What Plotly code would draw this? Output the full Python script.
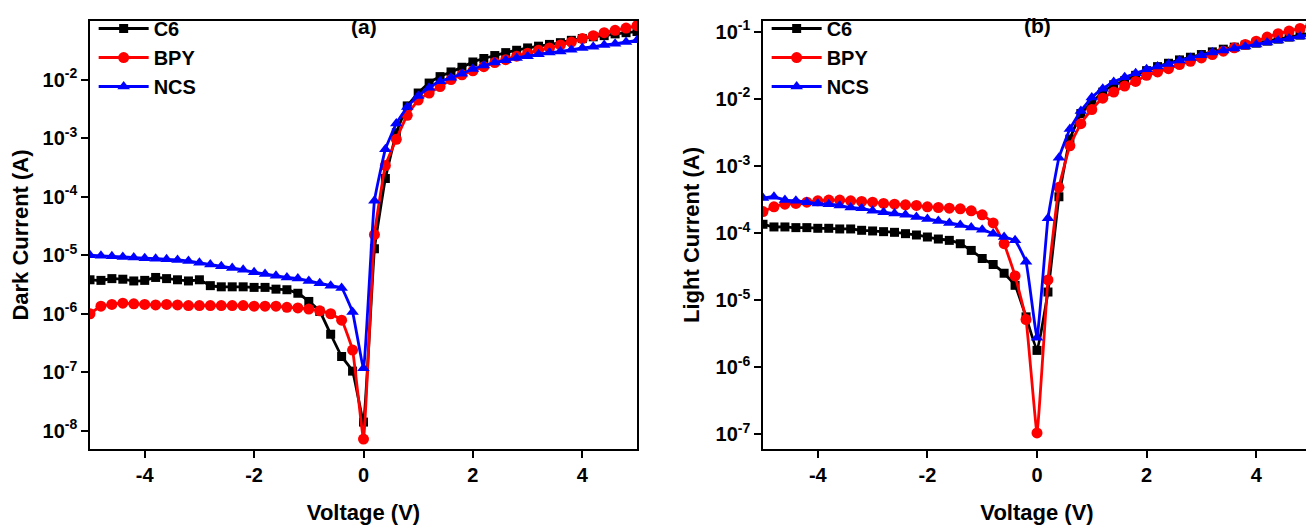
import plotly.graph_objects as go

voltage = [round(-5 + 0.2 * i, 1) for i in range(51)]

# log10 of current (A)
dark_c6 = [-5.42, -5.43, -5.40, -5.41, -5.44, -5.43, -5.38, -5.40, -5.42, -5.44,
           -5.42, -5.52, -5.54, -5.54, -5.54, -5.55, -5.55, -5.58, -5.59, -5.65,
           -5.79, -5.96, -6.35, -6.73, -6.98, -7.85, -4.89, -3.69, -2.91, -2.45,
           -2.23, -2.06, -1.95, -1.87, -1.79, -1.70, -1.64, -1.59, -1.54, -1.50,
           -1.46, -1.43, -1.40, -1.37, -1.33, -1.30, -1.27, -1.25, -1.22, -1.20, -1.18]
dark_bpy = [-6.00, -5.87, -5.84, -5.82, -5.83, -5.84, -5.85, -5.84, -5.85, -5.86,
            -5.86, -5.86, -5.86, -5.86, -5.86, -5.87, -5.87, -5.87, -5.89, -5.90,
            -5.92, -5.95, -6.00, -6.11, -6.62, -8.14, -4.65, -3.47, -3.02, -2.61,
            -2.35, -2.23, -2.12, -2.00, -1.92, -1.85, -1.78, -1.71, -1.66, -1.60,
            -1.55, -1.50, -1.46, -1.41, -1.36, -1.30, -1.25, -1.20, -1.16, -1.12, -1.08]
dark_ncs = [-5.00, -5.01, -5.02, -5.03, -5.04, -5.05, -5.06, -5.07, -5.08, -5.10,
            -5.13, -5.16, -5.19, -5.22, -5.25, -5.29, -5.32, -5.35, -5.38, -5.40,
            -5.44, -5.48, -5.52, -5.56, -5.97, -6.93, -4.07, -3.19, -2.75, -2.47,
            -2.28, -2.14, -2.03, -1.97, -1.90, -1.82, -1.76, -1.71, -1.67, -1.63,
            -1.60, -1.57, -1.54, -1.52, -1.49, -1.46, -1.44, -1.41, -1.39, -1.36, -1.33]

light_c6 = [-3.87, -3.91, -3.91, -3.92, -3.92, -3.93, -3.93, -3.94, -3.94, -3.96,
            -3.97, -3.98, -3.99, -4.01, -4.03, -4.06, -4.09, -4.11, -4.16, -4.26,
            -4.38, -4.47, -4.60, -4.78, -5.25, -5.75, -4.88, -3.46, -2.60, -2.22,
            -2.06, -1.90, -1.79, -1.73, -1.65, -1.58, -1.52, -1.47, -1.42, -1.38,
            -1.34, -1.30, -1.26, -1.23, -1.20, -1.17, -1.14, -1.11, -1.08, -1.05, -1.02]
light_bpy = [-3.68, -3.61, -3.57, -3.56, -3.54, -3.52, -3.51, -3.51, -3.52, -3.53,
             -3.54, -3.56, -3.57, -3.58, -3.59, -3.61, -3.62, -3.63, -3.64, -3.67,
             -3.73, -3.85, -4.16, -4.64, -5.29, -6.98, -4.70, -3.32, -2.70, -2.37,
             -2.16, -1.99, -1.90, -1.81, -1.74, -1.65, -1.60, -1.55, -1.49, -1.44,
             -1.39, -1.34, -1.29, -1.24, -1.19, -1.14, -1.08, -1.03, -0.99, -0.95, -0.90]
light_ncs = [-3.48, -3.46, -3.51, -3.52, -3.54, -3.56, -3.57, -3.59, -3.62, -3.63,
             -3.67, -3.69, -3.71, -3.73, -3.76, -3.79, -3.82, -3.85, -3.88, -3.92,
             -3.95, -4.01, -4.06, -4.11, -4.43, -5.56, -3.78, -2.88, -2.45, -2.18,
             -1.98, -1.85, -1.75, -1.68, -1.62, -1.56, -1.52, -1.48, -1.43, -1.39,
             -1.35, -1.31, -1.28, -1.25, -1.22, -1.19, -1.16, -1.13, -1.10, -1.07, -1.04]

series_names = ["C6", "BPY", "NCS"]
colors = ["#000000", "#FF0000", "#0000FF"]
symbols = ["square", "circle", "triangle-up"]
msizes = [9, 11, 11]

x_ticks = [-4, -2, 0, 2, 4]
x_tick_text = ["-4", "-2", "0", "2", "4"]
dark_exps = [-8, -7, -6, -5, -4, -3, -2]
light_exps = [-7, -6, -5, -4, -3, -2, -1]

FONT = "Liberation Sans"
# page has an 8px body margin, so the figure is 8px smaller than the window
W, H = 1306, 523
ml, mr, mt, mb = 82, 3, 1, 82
pw = W - ml - mr
dom_a = [0, (629 - ml) / pw]
dom_b = [(755 - ml) / pw, 1.0]

fig = go.Figure()
panels = [
    ("x", "y", [dark_c6, dark_bpy, dark_ncs], "legend"),
    ("x2", "y2", [light_c6, light_bpy, light_ncs], "legend2"),
]
for xa, ya, data, leg in panels:
    for name, col, sym, ms, vals in zip(series_names, colors, symbols, msizes, data):
        fig.add_trace(go.Scatter(
            x=voltage, y=[10 ** v for v in vals], name=name,
            mode="lines+markers", xaxis=xa, yaxis=ya, legend=leg,
            line=dict(color=col, width=2.8, shape="spline", smoothing=0.3),
            marker=dict(color=col, symbol=sym, size=ms, line=dict(width=0)),
        ))

axis_common = dict(showline=True, linecolor="black", linewidth=1.5, mirror=True,
                   ticks="outside", ticklen=7, tickwidth=1.5, tickcolor="black",
                   showgrid=False, zeroline=False, automargin=False,
                   tickfont=dict(family=FONT, size=20, color="black", weight="bold"),
                   title_font=dict(family=FONT, size=22, color="black", weight="bold"))

fig.update_layout(
    width=W, height=H, margin=dict(l=ml, r=mr, t=mt, b=mb),
    plot_bgcolor="white", paper_bgcolor="white",
    xaxis=dict(domain=dom_a, range=[-5, 5], tickvals=x_ticks, ticktext=x_tick_text,
               anchor="y", title=dict(text="Voltage (V)", standoff=20), **axis_common),
    xaxis2=dict(domain=dom_b, range=[-5, 5], tickvals=x_ticks, ticktext=x_tick_text,
                anchor="y2", title=dict(text="Voltage (V)", standoff=20), **axis_common),
    yaxis=dict(type="log", range=[-8.31, -1.0], anchor="x",
               tickvals=[10 ** e for e in dark_exps],
               ticktext=[f"10<sup>{e}</sup>" for e in dark_exps],
               title=dict(text="Dark Current (A)", standoff=10), **axis_common),
    yaxis2=dict(type="log", range=[-7.22, -0.84], anchor="x2",
                tickvals=[10 ** e for e in light_exps],
                ticktext=[f"10<sup>{e}</sup>" for e in light_exps],
                title=dict(text="Light Current (A)", standoff=10), **axis_common),
    legend=dict(x=0.003, y=1.028, xanchor="left", yanchor="top", bgcolor="rgba(0,0,0,0)",
                font=dict(family=FONT, size=20, color="black", weight="bold"),
                tracegroupgap=0, itemwidth=50),
    legend2=dict(x=dom_b[0] + 0.003, y=1.028, xanchor="left", yanchor="top",
                 bgcolor="rgba(0,0,0,0)",
                 font=dict(family=FONT, size=20, color="black", weight="bold"),
                 tracegroupgap=0, itemwidth=50),
    annotations=[
        dict(text="(a)", x=0, y=1, xref="x", yref="paper", yanchor="top", yshift=8,
             showarrow=False, font=dict(family=FONT, size=21, color="black", weight="bold")),
        dict(text="(b)", x=0, y=1, xref="x2", yref="paper", yanchor="top", yshift=9,
             showarrow=False, font=dict(family=FONT, size=21, color="black", weight="bold")),
    ],
)

fig.write_html("out.html")
